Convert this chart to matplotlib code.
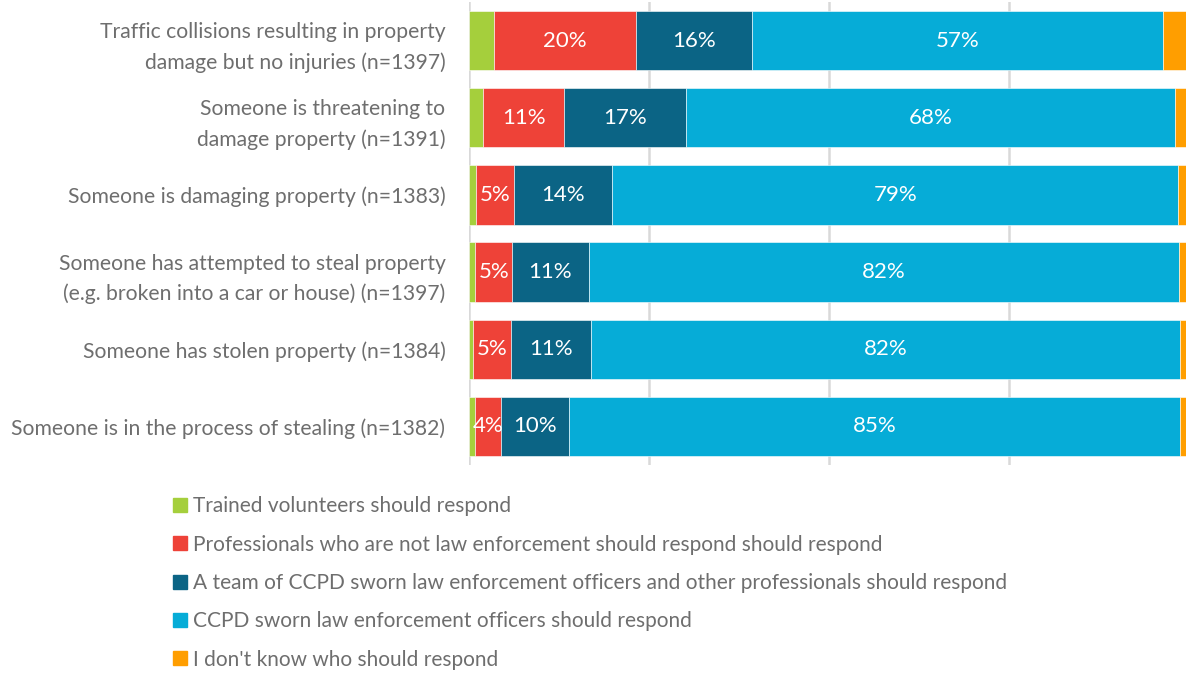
import matplotlib.pyplot as plt
from matplotlib.patches import Patch
import numpy as np

plt.rcParams['font.family'] = ['Lato', 'DejaVu Sans']

categories = [
    "Traffic collisions resulting in property\ndamage but no injuries (n=1397)",
    "Someone is threatening to\ndamage property (n=1391)",
    "Someone is damaging property (n=1383)",
    "Someone has attempted to steal property\n(e.g. broken into a car or house) (n=1397)",
    "Someone has stolen property (n=1384)",
    "Someone is in the process of stealing (n=1382)",
]
series_names = [
    "Trained volunteers should respond",
    "Professionals who are not law enforcement should respond should respond",
    "A team of CCPD sworn law enforcement officers and other professionals should respond",
    "CCPD sworn law enforcement officers should respond",
    "I don't know who should respond",
]
volunteers = [3.5, 2.0, 1.0, 0.9, 0.5, 0.8]
professionals = [19.7, 11.2, 5.3, 5.1, 5.4, 3.6]
team = [16.1, 17.0, 13.6, 10.6, 11.1, 9.5]
officers = [57.1, 67.9, 78.6, 82.0, 81.8, 84.9]
dont_know = [3.6, 1.9, 1.5, 1.4, 1.2, 1.2]
colors = ["#A5CF3C", "#EE4238", "#0B6485", "#06ACD7", "#FF9E00"]

W, H = 1186, 673
fig = plt.figure(figsize=(W / 100, H / 100), dpi=100)
# x=0 sits at 469px, x=100 at 1189px (just past the right edge)
ax = fig.add_axes([469 / W, 1 - 465 / H, 720 / W, 463 / H])

data = [volunteers, professionals, team, officers, dont_know]
y = np.arange(len(categories))
left = np.zeros(len(categories))
for vals, color, name in zip(data, colors, series_names):
    vals = np.array(vals)
    ax.barh(y, vals, left=left, height=0.77, color=color, label=name,
            edgecolor="white", linewidth=0.4, zorder=2)
    for yi, (l, v) in enumerate(zip(left, vals)):
        if v >= 3.6 and color not in ("#A5CF3C", "#FF9E00"):
            ax.text(l + v / 2, yi, f"{round(v):.0f}%", ha="center", va="center",
                    color="white", fontsize=16, zorder=3)
    left += vals

ax.set_xlim(0, 100)
ax.set_ylim(len(categories) - 0.5, -0.5)
ax.set_xticks([0, 25, 50, 75])
ax.xaxis.grid(True, color="#D9D9D9", linewidth=1.8, zorder=0)
ax.tick_params(axis="x", length=0, labelbottom=False)
ax.tick_params(axis="y", length=0, pad=17)
ax.set_yticks(y)
ax.set_yticklabels(categories, fontsize=15.2, color="#6E6E6E", ha="right",
                   linespacing=1.6)
for s in ax.spines.values():
    s.set_visible(False)

handles = [Patch(color=c) for c in colors]
fig.legend(handles, series_names, loc="upper left",
           bbox_to_anchor=(165 / W, 1 - 488 / H), frameon=False,
           fontsize=15, labelcolor="#6E6E6E", handlelength=0.65,
           handleheight=0.65, handletextpad=0.3, labelspacing=0.88,
           borderaxespad=0)

fig.savefig("out.png", dpi=100)
